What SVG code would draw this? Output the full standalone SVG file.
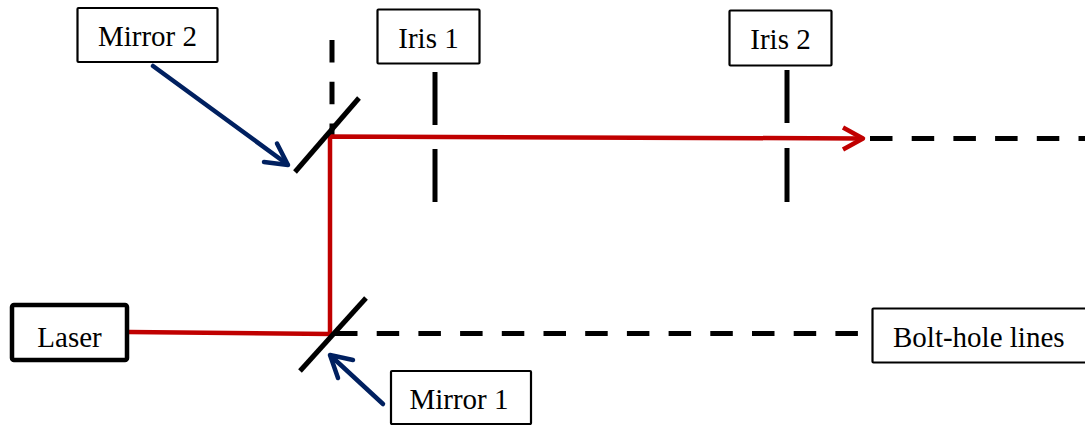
<svg xmlns="http://www.w3.org/2000/svg" width="1085" height="425" viewBox="0 0 1085 425">
<style>
.box{fill:#fff;stroke:#000;stroke-width:2.2}
text{font-family:'Liberation Serif','Times New Roman','DejaVu Serif',serif;font-size:29px;fill:#000}
.beam{fill:none;stroke:#C00000;stroke-width:4.5;stroke-linecap:butt}
.dash{fill:none;stroke:#000;stroke-width:5;stroke-dasharray:22.5 19.2}
.optic{fill:none;stroke:#000;stroke-width:5}
.ptr{fill:none;stroke:#002060;stroke-width:4.5;stroke-linecap:round;stroke-linejoin:round}
</style>
<rect width="1085" height="425" fill="#fff"/>
<g id="connectors">
  <line class="dash" x1="332" y1="40" x2="332" y2="135"/>
  <line class="dash" x1="870" y1="138.5" x2="1085" y2="138.5"/>
  <line class="dash" x1="335" y1="333.5" x2="872" y2="333.5"/>
  <polyline class="beam" points="129,332 330,334 330,136.5 862,138.5"/>
  <polyline class="beam" points="843,127.5 863,138.5 843,149.5" stroke-linecap="round" stroke-linejoin="round"/>
  <line class="ptr" x1="153" y1="66" x2="287" y2="164"/>
  <polyline class="ptr" points="264,162 288,165 277,143.5"/>
  <line class="ptr" x1="383" y1="404" x2="331" y2="356"/>
  <polyline class="ptr" points="353,360 330,355 338,378"/>
</g>
<g id="mirror1-optic"><line class="optic" x1="300" y1="371" x2="366" y2="298"/></g>
<g id="mirror2-optic"><line class="optic" x1="295" y1="172" x2="359" y2="98"/></g>
<g id="iris1-optic">
  <line class="optic" x1="435" y1="72" x2="435" y2="125"/>
  <line class="optic" x1="435" y1="149" x2="435" y2="202"/>
</g>
<g id="iris2-optic">
  <line class="optic" x1="787" y1="70" x2="787" y2="123"/>
  <line class="optic" x1="787" y1="148" x2="787" y2="202"/>
</g>
<g id="laser">
  <rect x="12" y="305" width="115" height="55" rx="2" fill="#fff" stroke="#000" stroke-width="4.5"/>
  <text font-family="Liberation Serif, serif" x="69.5" y="347" text-anchor="middle">Laser</text>
</g>
<g id="mirror2">
  <rect class="box" x="77.5" y="8" width="140" height="54" rx="1"/>
  <text font-family="Liberation Serif, serif" x="147.5" y="46" text-anchor="middle">Mirror 2</text>
</g>
<g id="iris1">
  <rect class="box" x="377.5" y="9.5" width="102" height="54" rx="1"/>
  <text font-family="Liberation Serif, serif" x="428.5" y="48" text-anchor="middle">Iris 1</text>
</g>
<g id="iris2">
  <rect class="box" x="729.5" y="10.5" width="102" height="55" rx="1"/>
  <text font-family="Liberation Serif, serif" x="780.5" y="49" text-anchor="middle">Iris 2</text>
</g>
<g id="mirror1">
  <rect class="box" x="391" y="371" width="140" height="53" rx="1"/>
  <text font-family="Liberation Serif, serif" x="459" y="409" text-anchor="middle">Mirror 1</text>
</g>
<g id="bolt-hole-lines">
  <rect class="box" x="872.5" y="308.5" width="230" height="54" rx="1"/>
  <text font-family="Liberation Serif, serif" x="893" y="347">Bolt-hole lines</text>
</g>
</svg>
